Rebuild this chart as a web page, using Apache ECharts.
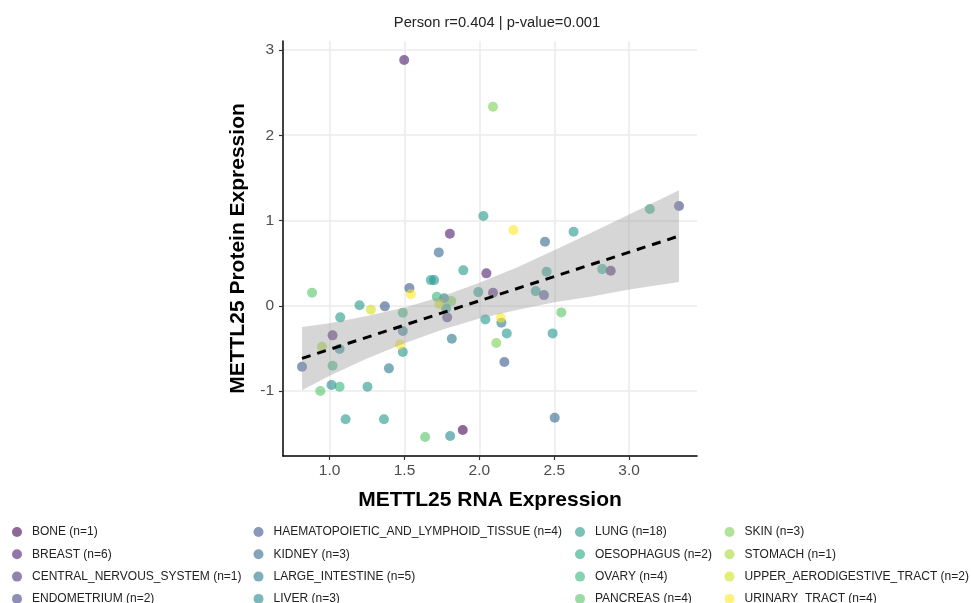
<!DOCTYPE html>
<html>
<head>
<meta charset="utf-8">
<script src="https://cdn.jsdelivr.net/npm/echarts@6/dist/echarts.min.js"></script>
<style>
  html, body { margin: 0; padding: 0; background: #fff; }
  #main { width: 971px; height: 603px; }
</style>
</head>
<body>
<div id="main"></div>
<script>
// tissue names, in legend order
const tissues = [
    'BONE', 'BREAST', 'CENTRAL_NERVOUS_SYSTEM', 'ENDOMETRIUM',
    'HAEMATOPOIETIC_AND_LYMPHOID_TISSUE', 'KIDNEY', 'LARGE_INTESTINE', 'LIVER',
    'LUNG', 'OESOPHAGUS', 'OVARY', 'PANCREAS',
    'SKIN', 'STOMACH', 'UPPER_AERODIGESTIVE_TRACT', 'URINARY_TRACT'
];
// viridis palette, one per tissue
const palette = [
    '68,1,84', '72,26,108', '71,47,125', '65,68,135',
    '57,86,140', '49,104,142', '42,120,142', '35,136,142',
    '31,152,139', '34,168,132', '53,183,121', '84,197,104',
    '122,209,81', '165,219,54', '210,226,27', '253,231,37'
];

// one entry per cell line: tissue, RNA expression, protein expression
const pointTissue = [
    'BONE',
    'BREAST', 'BREAST', 'BREAST', 'BREAST', 'BREAST', 'BREAST',
    'CENTRAL_NERVOUS_SYSTEM',
    'ENDOMETRIUM', 'ENDOMETRIUM',
    'HAEMATOPOIETIC_AND_LYMPHOID_TISSUE', 'HAEMATOPOIETIC_AND_LYMPHOID_TISSUE',
    'HAEMATOPOIETIC_AND_LYMPHOID_TISSUE', 'HAEMATOPOIETIC_AND_LYMPHOID_TISSUE',
    'KIDNEY', 'KIDNEY', 'KIDNEY',
    'LARGE_INTESTINE', 'LARGE_INTESTINE', 'LARGE_INTESTINE', 'LARGE_INTESTINE', 'LARGE_INTESTINE',
    'LIVER', 'LIVER', 'LIVER',
    'LUNG', 'LUNG', 'LUNG', 'LUNG', 'LUNG', 'LUNG', 'LUNG', 'LUNG', 'LUNG',
    'LUNG', 'LUNG', 'LUNG', 'LUNG', 'LUNG', 'LUNG', 'LUNG', 'LUNG', 'LUNG',
    'OESOPHAGUS', 'OESOPHAGUS',
    'OVARY', 'OVARY', 'OVARY', 'OVARY',
    'PANCREAS', 'PANCREAS', 'PANCREAS', 'PANCREAS',
    'SKIN', 'SKIN', 'SKIN',
    'STOMACH',
    'UPPER_AERODIGESTIVE_TRACT', 'UPPER_AERODIGESTIVE_TRACT',
    'URINARY_TRACT', 'URINARY_TRACT', 'URINARY_TRACT', 'URINARY_TRACT'
];
const rnaExpr = [
    1.889,
    1.498, 1.803, 2.047, 2.091, 2.877, 1.020,
    1.785,
    3.333, 2.431,
    1.369, 1.533, 2.167, 0.816,
    1.729, 2.438, 2.503,
    1.489, 1.396, 1.765, 1.816, 2.147,
    1.067, 1.013, 1.805,
    1.071, 1.200, 1.489, 1.253, 1.676, 1.698, 1.893, 2.027, 1.778,
    1.993, 2.040, 2.183, 2.629, 2.449, 2.376, 2.489, 1.107, 1.363,
    2.820, 3.138,
    1.489, 1.020, 1.067, 1.716,
    0.883, 0.938, 2.547, 1.638,
    2.091, 1.813, 2.113,
    0.949,
    1.276, 1.733,
    1.543, 1.469, 2.143, 2.227
];
const proteinExpr = [
    -1.457,
    2.882, 0.844, 0.380, 0.152, 0.410, -0.347,
    -0.136,
    1.169, 0.125,
    -0.007, 0.207, -0.660, -0.715,
    0.626, 0.750, -1.313,
    -0.297, -0.734, 0.087, -0.387, -0.199,
    -0.508, -0.930, -1.528,
    -0.136, 0.005, -0.543, -0.950, 0.301, 0.301, 0.415, 1.052, -0.030,
    0.160, -0.160, -0.324, 0.868, 0.399, 0.172, -0.324, -1.332, -1.332,
    0.430, 1.134,
    -0.082, -0.703, -0.950, 0.106,
    0.152, -1.000, -0.078, -1.539,
    2.333, 0.055, -0.437,
    -0.480,
    -0.047, 0.020,
    0.134, -0.453, -0.141, 0.887
];

// linear fit and its 95% band
const fitX = [0.816, 3.333];
const fitY = [-0.617, 0.818];
const bandX = [0.816, 1.0, 1.25, 1.5, 1.75, 2.0, 2.25, 2.5, 2.75, 3.0, 3.333];
const bandLow = [-0.99, -0.82, -0.62, -0.44, -0.28, -0.15, -0.05, 0.04, 0.11, 0.19, 0.28];
const bandHigh = [-0.25, -0.205, -0.12, -0.02, 0.11, 0.27, 0.45, 0.65, 0.86, 1.07, 1.355];

const xTicks = [1.0, 1.5, 2.0, 2.5, 3.0];
const yTicks = [-1, 0, 1, 2, 3];

const titleText = 'Person r=0.404 | p-value=0.001';

const counts = {};
pointTissue.forEach(function (t) { counts[t] = (counts[t] || 0) + 1; });

const font = 'Liberation Sans, Arial, sans-serif';

const series = tissues.map(function (t, i) {
    const data = [];
    for (let k = 0; k < pointTissue.length; k++) {
        if (pointTissue[k] === t) data.push([rnaExpr[k], proteinExpr[k]]);
    }
    return {
        name: t,
        type: 'scatter',
        data: data,
        symbolSize: 10,
        z: 2,
        itemStyle: { color: 'rgba(' + palette[i] + ',0.75)' }
    };
});

// grey confidence band, drawn over the points like ggplot does
series.push({
    name: 'band',
    type: 'custom',
    z: 3,
    silent: true,
    data: [[bandX[0], bandLow[0]]],
    renderItem: function (params, api) {
        const pts = [];
        for (let i = 0; i < bandX.length; i++) pts.push(api.coord([bandX[i], bandHigh[i]]));
        for (let i = bandX.length - 1; i >= 0; i--) pts.push(api.coord([bandX[i], bandLow[i]]));
        return {
            type: 'polygon',
            shape: { points: pts },
            style: { fill: 'rgba(153,153,153,0.4)', stroke: null }
        };
    }
});

series.push({
    name: 'fit',
    type: 'line',
    z: 4,
    silent: true,
    symbol: 'none',
    data: [[fitX[0], fitY[0]], [fitX[1], fitY[1]]],
    lineStyle: { color: '#000', width: 3, type: [9, 7] }
});

// legend: 4 columns of 4
const legendLefts = [12, 253.5, 575, 724.5];
const legends = legendLefts.map(function (l, c) {
    return {
        orient: 'vertical',
        left: l,
        top: 526,
        height: 100,
        padding: 0,
        itemGap: 10.3,
        itemWidth: 10,
        itemHeight: 10,
        icon: 'circle',
        selectedMode: false,
        data: tissues.slice(c * 4, c * 4 + 4),
        formatter: function (name) { return name + ' (n=' + counts[name] + ')'; },
        textStyle: { fontFamily: font, fontSize: 12, color: '#222', padding: [0, 0, 0, 5] }
    };
});

const chart = echarts.init(document.getElementById('main'));
const option = {
    backgroundColor: '#fff',
    animation: false,
    title: {
        text: titleText,
        left: 492,
        textAlign: 'center',
        top: 10,
        textStyle: { fontFamily: font, fontSize: 14.7, fontWeight: 'normal', color: '#222' }
    },
    legend: legends,
    grid: { left: 283, right: 274, top: 41, bottom: 147, containLabel: false },
    xAxis: {
        type: 'value',
        min: 0.689,
        max: 3.453,
        name: 'METTL25 RNA Expression',
        nameLocation: 'middle',
        nameGap: 34,
        nameTextStyle: { fontFamily: font, fontSize: 21, fontWeight: 'bold', color: '#000' },
        axisLine: { onZero: false, lineStyle: { color: '#000', width: 1.5 } },
        axisTick: { show: true, length: 4, customValues: xTicks, lineStyle: { color: '#333', width: 1.2 } },
        axisLabel: {
            customValues: xTicks,
            margin: 7,
            fontFamily: font, fontSize: 15.5, color: '#4d4d4d',
            formatter: function (v) { return v.toFixed(1); }
        },
        splitLine: { show: true, lineStyle: { color: '#ebebeb', width: 1.5 } }
    },
    yAxis: {
        type: 'value',
        min: -1.762,
        max: 3.105,
        name: 'METTL25 Protein Expression',
        nameLocation: 'middle',
        nameGap: 34.5,
        nameTextStyle: { fontFamily: font, fontSize: 21, fontWeight: 'bold', color: '#000' },
        axisLine: { show: true, onZero: false, lineStyle: { color: '#000', width: 1.5 } },
        axisTick: { show: true, length: 4, customValues: yTicks, lineStyle: { color: '#333', width: 1.2 } },
        axisLabel: {
            customValues: yTicks,
            margin: 9,
            fontFamily: font, fontSize: 15.5, color: '#4d4d4d',
            formatter: function (v) { return String(v); }
        },
        splitLine: { show: true, lineStyle: { color: '#ebebeb', width: 1.5 } }
    },
    series: series
};
chart.setOption(option);
window.addEventListener('resize', function () {
    chart.resize();
});
</script>
</body>
</html>
